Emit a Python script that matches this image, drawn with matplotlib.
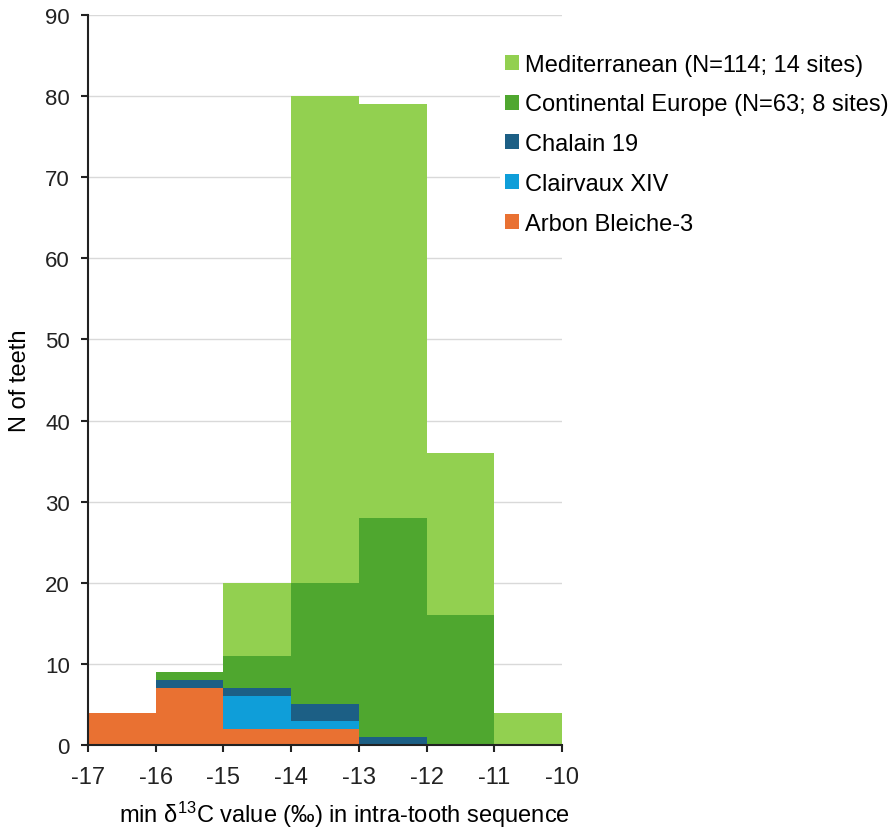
import matplotlib
matplotlib.use("Agg")
import matplotlib.pyplot as plt
import numpy as np

plt.rcParams['font.family'] = ['Liberation Sans', 'DejaVu Sans']
plt.rcParams['axes.unicode_minus'] = False

bin_left = [-17, -16, -15, -14, -13, -12, -11]
arbon = [4, 7, 2, 2, 0, 0, 0]
clairvaux = [0, 0, 4, 1, 0, 0, 0]
chalain = [0, 1, 1, 2, 1, 0, 0]
continental = [0, 1, 4, 15, 27, 16, 0]
mediterranean = [0, 0, 9, 60, 51, 20, 4]

series = [
    ("Arbon Bleiche-3", arbon, "#E97132"),
    ("Clairvaux XIV", clairvaux, "#0F9ED9"),
    ("Chalain 19", chalain, "#1C5F85"),
    ("Continental Europe (N=63; 8 sites)", continental, "#4FA72F"),
    ("Mediterranean (N=114; 14 sites)", mediterranean, "#92D050"),
]

fig = plt.figure(figsize=(8.92, 8.29), dpi=100)
ax = fig.add_axes([88/892, 83/829, (562-88)/892, (746-16)/829])

bottom = np.zeros(len(bin_left))
handles = []
for name, vals, col in series:
    b = ax.bar(bin_left, vals, width=1.0, align='edge', bottom=bottom,
               color=col, edgecolor='none', linewidth=0, label=name, zorder=2)
    handles.append(b)
    bottom = bottom + np.array(vals)

ax.set_xlim(-17, -10)
ax.set_ylim(0, 90)
ax.set_xticks(range(-17, -9))
ax.set_yticks(range(0, 91, 10))
ax.yaxis.grid(True, color='#d9d9d9', linewidth=1.0, zorder=0)
ax.set_axisbelow(True)
for s in ['top', 'right']:
    ax.spines[s].set_visible(False)
for s in ['left', 'bottom']:
    ax.spines[s].set_color('#222222')
    ax.spines[s].set_linewidth(1.5)
ax.tick_params(axis='both', colors='#222222', length=5, width=1.5)
ax.tick_params(axis='x', pad=10, labelsize=17)
ax.tick_params(axis='y', pad=8, labelsize=16)
ax.set_ylabel("N of teeth", fontsize=17, labelpad=10)
ax.set_xlabel(r"min $\mathregular{\delta^{13}}$C value (‰) in intra-tooth sequence",
              fontsize=17)
ax.xaxis.set_label_coords((344-88)/474, -(800-746)/730)

leg = fig.legend(handles[::-1], [s[0] for s in series][::-1], loc='upper left',
                 bbox_to_anchor=(500/892, 1 - 50/829), frameon=True, fontsize=17,
                 handlelength=0.6, handleheight=0.6, handletextpad=0.25,
                 labelspacing=0.75, borderpad=0.2, borderaxespad=0)
leg.get_frame().set_edgecolor('none')
leg.get_frame().set_facecolor('white')
leg.get_frame().set_alpha(1)

fig.savefig("out.png", dpi=100)
